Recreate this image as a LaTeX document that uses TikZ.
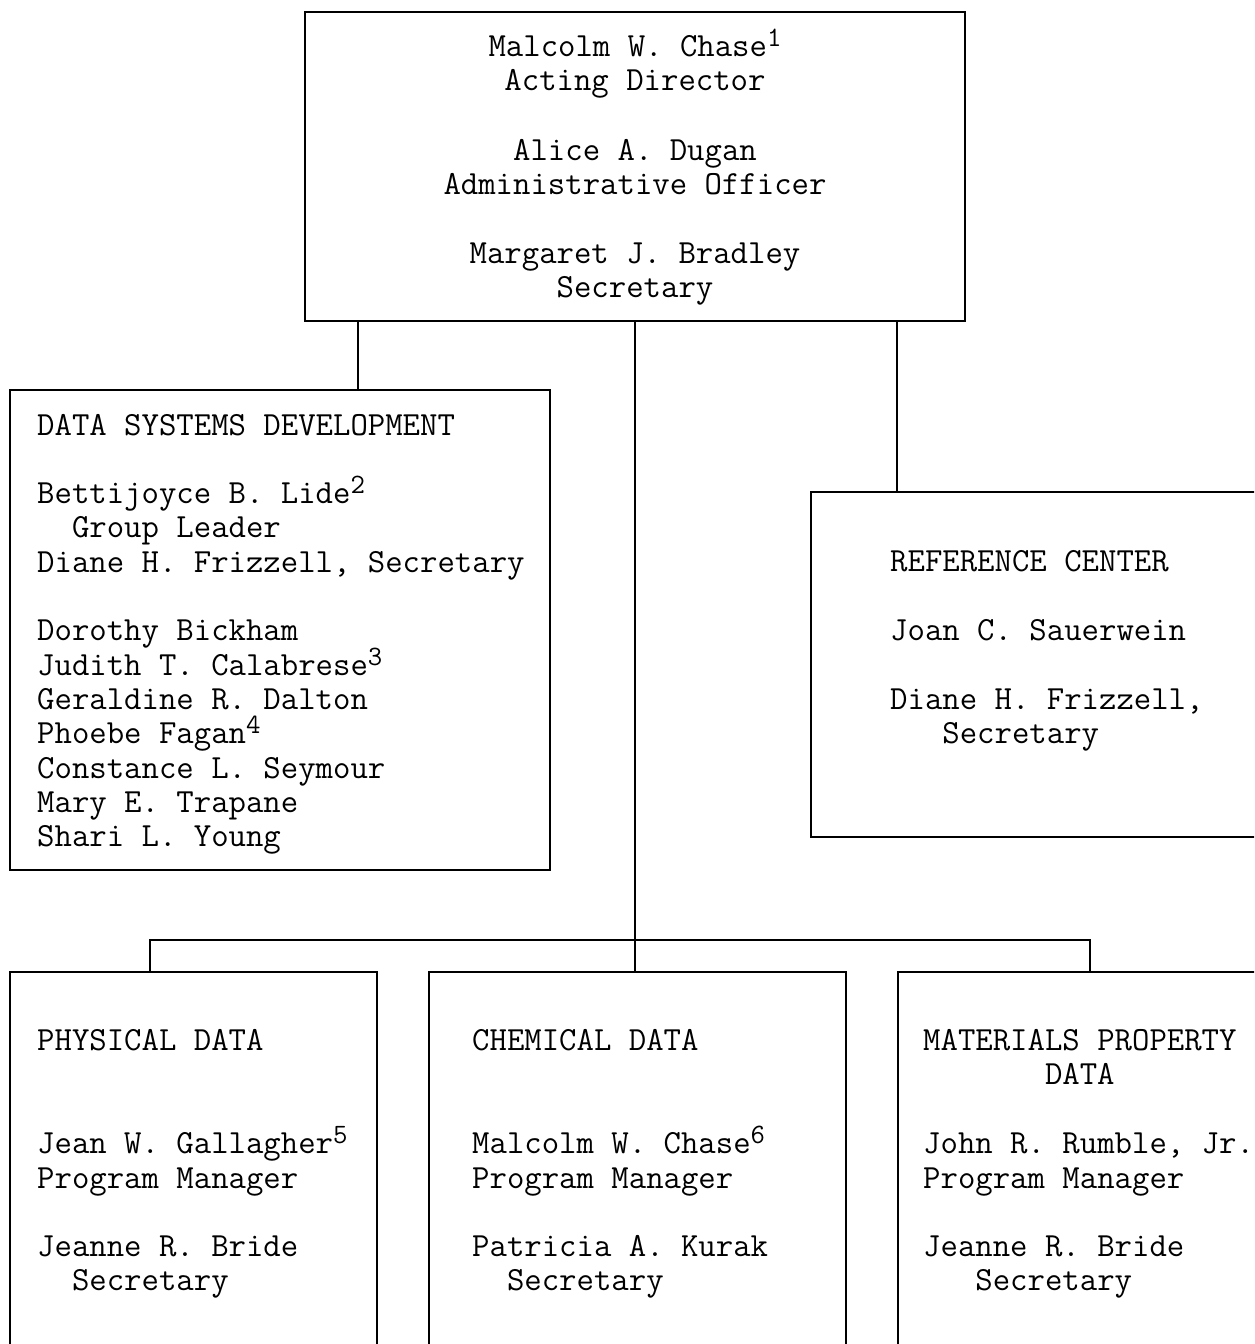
\documentclass[tikz,border=0pt]{standalone}
\newcommand\fnm[1]{\smash{\raisebox{10pt}{\fontsize{28}{28}\selectfont #1}}}
\begin{document}
\begin{tikzpicture}[x=1pt,y=-1pt,
  box/.style={draw, line width=2.2pt, rectangle, inner sep=0pt, outer sep=0pt, anchor=north west},
  txt/.style={font=\ttfamily\fontsize{33.8}{34.3}\selectfont, inner sep=0pt, anchor=base west},
  ctxt/.style={txt, anchor=base},
  conn/.style={line width=2.2pt}]
\useasboundingbox (0,0) rectangle (1254,1344);
\clip (0,0) rectangle (1254,1344);
% boxes
\node[box, minimum width=660, minimum height=309] (dir) at (305,12) {};
\node[box, minimum width=540, minimum height=480] (dsd) at (10,390) {};
\node[box, minimum width=500, minimum height=345] (ref) at (811,492) {};
\node[box, minimum width=367, minimum height=420] (phys) at (10,972) {};
\node[box, minimum width=417, minimum height=420] (chem) at (429,972) {};
\node[box, minimum width=400, minimum height=420] (mat) at (898,972) {};
% connectors
\coordinate (k1) at (358,0);
\coordinate (k3) at (897,0);
\coordinate (bl) at (150,940);
\coordinate (br) at (1090,940);
\draw[conn] (dir.south -| k1) -- (dsd.north -| k1);
\draw[conn] (dir.south -| k3) -- (ref.north -| k3);
\draw[conn] (dir.south) -- (dir.south |- chem.north);
\draw[conn] (bl |- phys.north) -- (bl) -- (br) -- (br |- mat.north);
% director box
\node[ctxt] (t1) at (635,56) {Malcolm W. Chase\fnm{1}};
\node[ctxt] (t2) at (635,90.5) {Acting Director};
\node[ctxt] (t3) at (635,160) {Alice A. Dugan};
\node[ctxt] (t4) at (635,194.5) {Administrative Officer};
\node[ctxt] (t5) at (635,263) {Margaret J. Bradley};
\node[ctxt] (t6) at (635,297) {Secretary};
% data systems development
\node[txt] (d1) at (37,435) {DATA SYSTEMS DEVELOPMENT};
\node[txt] (d2) at (37,503.6) {Bettijoyce B. Lide\fnm{2}};
\node[txt] (d3) at (71.8,537.9) {Group Leader};
\node[txt] (d4) at (37,572.2) {Diane H. Frizzell, Secretary};
\node[txt] (d5) at (37,640.8) {Dorothy Bickham};
\node[txt] (d6) at (37,675.1) {Judith T. Calabrese\fnm{3}};
\node[txt] (d7) at (37,709.4) {Geraldine R. Dalton};
\node[txt] (d8) at (37,743.7) {Phoebe Fagan\fnm{4}};
\node[txt] (d9) at (37,778) {Constance L. Seymour};
\node[txt] (d10) at (37,812.3) {Mary E. Trapane};
\node[txt] (d11) at (37,846.6) {Shari L. Young};
% reference center
\node[txt] (r1) at (890,571) {REFERENCE CENTER};
\node[txt] (r2) at (890,640) {Joan C. Sauerwein};
\node[txt] (r3) at (890,709) {Diane H. Frizzell,};
\node[txt] (r4) at (942.2,743.3) {Secretary};
% physical data
\node[txt] (p1) at (37,1050) {PHYSICAL DATA};
\node[txt] (p2) at (37,1153) {Jean W. Gallagher\fnm{5}};
\node[txt] (p3) at (37,1188) {Program Manager};
\node[txt] (p4) at (37,1256) {Jeanne R. Bride};
\node[txt] (p5) at (71.8,1290) {Secretary};
% chemical data
\node[txt] (c1) at (472,1050) {CHEMICAL DATA};
\node[txt] (c2) at (472,1153) {Malcolm W. Chase\fnm{6}};
\node[txt] (c3) at (472,1188) {Program Manager};
\node[txt] (c4) at (472,1256) {Patricia A. Kurak};
\node[txt] (c5) at (506.8,1290) {Secretary};
% materials property data
\node[txt] (m1) at (923,1050) {MATERIALS PROPERTY};
\node[txt] (m2) at (1044.8,1084) {DATA};
\node[txt] (m3) at (923,1153) {John R. Rumble, Jr.};
\node[txt] (m4) at (923,1188) {Program Manager};
\node[txt] (m5) at (923,1256) {Jeanne R. Bride};
\node[txt] (m6) at (975.2,1290) {Secretary};
\end{tikzpicture}
\end{document}
